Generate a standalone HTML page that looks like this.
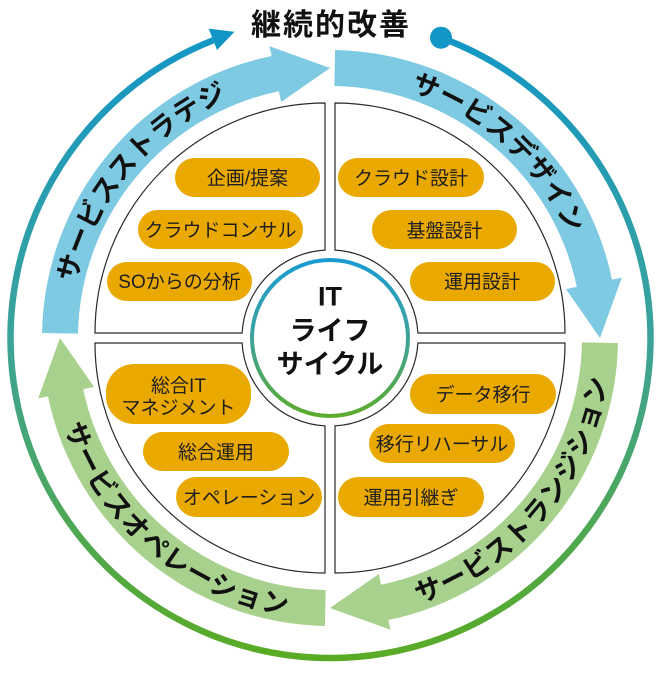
<!DOCTYPE html>
<html><head><meta charset="utf-8">
<style>
html,body{margin:0;padding:0;background:#fff;}
svg{display:block;}
text{font-family:"Liberation Sans","Noto Sans CJK JP",sans-serif;}
</style></head>
<body>
<svg width="660" height="675" viewBox="0 0 660 675" xmlns="http://www.w3.org/2000/svg">
<defs>
<linearGradient id="ringG" gradientUnits="userSpaceOnUse" x1="0" y1="18" x2="0" y2="658">
<stop offset="0" stop-color="#1196c8"/>
<stop offset="0.5" stop-color="#3ca39a"/>
<stop offset="1" stop-color="#5aab24"/>
</linearGradient>
<linearGradient id="innerG" gradientUnits="userSpaceOnUse" x1="0" y1="260" x2="0" y2="416">
<stop offset="0" stop-color="#1a9cd2"/>
<stop offset="0.5" stop-color="#3fa39a"/>
<stop offset="1" stop-color="#5bab2c"/>
</linearGradient>
<path id="band" d="M 78.04 333.60 L 42.04 332.97 A 288 288 0 0 1 271.60 55.99 L 269.57 46.19 L 330 68 L 281.13 102.01 L 278.90 91.24 A 252 252 0 0 0 78.04 333.60 Z"/>
<path id="pStr" d="M 132.0 506.51 A 260 260 0 0 1 458.42 111.93"/>
<path id="pDes" d="M 170.98 132.30 A 260 260 0 0 1 549.77 476.93"/>
<path id="pTra" d="M 190.85 580.98 A 280 280 0 0 0 543.86 157.27"/>
<path id="pOpe" d="M 88.0 197.15 A 280 280 0 0 0 509.23 553.12"/>
</defs>

<!-- wide bands -->
<use href="#band" fill="#7ecae2"/>
<use href="#band" fill="#7ecae2" transform="rotate(90 330 338)"/>
<use href="#band" fill="#a9d18e" transform="rotate(180 330 338)"/>
<use href="#band" fill="#a9d18e" transform="rotate(270 330 338)"/>

<!-- band labels -->
<text font-size="27" font-weight="bold" fill="#111" letter-spacing="0.6"><textPath href="#pStr" startOffset="50%" text-anchor="middle">サービスストラテジ</textPath></text>
<text font-size="27" font-weight="bold" fill="#111" letter-spacing="0.6"><textPath href="#pDes" startOffset="50%" text-anchor="middle">サービスデザイン</textPath></text>
<text font-size="27" font-weight="bold" fill="#111" letter-spacing="1.1"><textPath href="#pTra" startOffset="50%" text-anchor="middle">サービストランジション</textPath></text>
<text font-size="27" font-weight="bold" fill="#111" letter-spacing="1.0"><textPath href="#pOpe" startOffset="50%" text-anchor="middle">サービスオペレーション</textPath></text>

<!-- quadrants -->
<g fill="#fff" stroke="#2a2a2a" stroke-width="1.2">
<path d="M 325 103 L 325 250.1 A 88 88 0 0 0 242.1 333 L 95 333 A 230 230 0 0 1 325 103 Z"/>
<path d="M 335 103 L 335 250.1 A 88 88 0 0 1 417.9 333 L 565 333 A 230 230 0 0 0 335 103 Z"/>
<path d="M 325 573 L 325 425.9 A 88 88 0 0 1 242.1 343 L 95 343 A 230 230 0 0 0 325 573 Z"/>
<path d="M 335 573 L 335 425.9 A 88 88 0 0 0 417.9 343 L 565 343 A 230 230 0 0 1 335 573 Z"/>
</g>

<!-- inner circle -->
<circle cx="330" cy="338" r="78" fill="#fff" stroke="url(#innerG)" stroke-width="4"/>
<g font-size="27" font-weight="bold" fill="#111" text-anchor="middle">
<text x="330" y="305.5">IT</text>
<text x="330" y="340">ライフ</text>
<text x="330" y="373.5">サイクル</text>
</g>

<!-- pills -->
<g fill="#e9a900">
<rect x="175" y="158" width="145" height="39" rx="19.5"/>
<rect x="138" y="210" width="165" height="39" rx="19.5"/>
<rect x="107" y="262" width="145" height="39" rx="19.5"/>
<rect x="338" y="158" width="146" height="39" rx="19.5"/>
<rect x="372" y="210" width="145" height="39" rx="19.5"/>
<rect x="410" y="262" width="145" height="39" rx="19.5"/>
<rect x="106" y="364" width="145" height="60" rx="28"/>
<rect x="143" y="432" width="146" height="39" rx="19.5"/>
<rect x="176" y="477" width="146" height="40" rx="20"/>
<rect x="410" y="374" width="146" height="40" rx="20"/>
<rect x="369" y="424" width="146" height="39" rx="19.5"/>
<rect x="338" y="477" width="146" height="40" rx="20"/>
</g>
<g font-size="19" fill="#1e1e1e" text-anchor="middle">
<text x="247.5" y="184.5">企画/提案</text>
<text x="220.5" y="236.5">クラウドコンサル</text>
<text x="179.5" y="288">SOからの分析</text>
<text x="411" y="184.5">クラウド設計</text>
<text x="444.5" y="237">基盤設計</text>
<text x="482" y="288">運用設計</text>
<text x="178.5" y="392">総合IT</text>
<text x="178.5" y="414">マネジメント</text>
<text x="216" y="458.5">総合運用</text>
<text x="249" y="504">オペレーション</text>
<text x="483" y="401">データ移行</text>
<text x="442" y="450.5">移行リハーサル</text>
<text x="411" y="504">運用引継ぎ</text>
</g>

<!-- outer ring -->
<path d="M 441.0 37.68 A 320 320 0 1 1 213.22 40.27" fill="none" stroke="url(#ringG)" stroke-width="6.5"/>
<polygon points="208.64,28.64 234.51,31.69 217.07,50.04" fill="#1296c6"/>
<circle cx="441" cy="37.7" r="11" fill="#1296c6"/>

<!-- title -->
<text x="331" y="35" font-size="30" font-weight="bold" fill="#111" text-anchor="middle" letter-spacing="2">継続的改善</text>
</svg>
</body></html>
